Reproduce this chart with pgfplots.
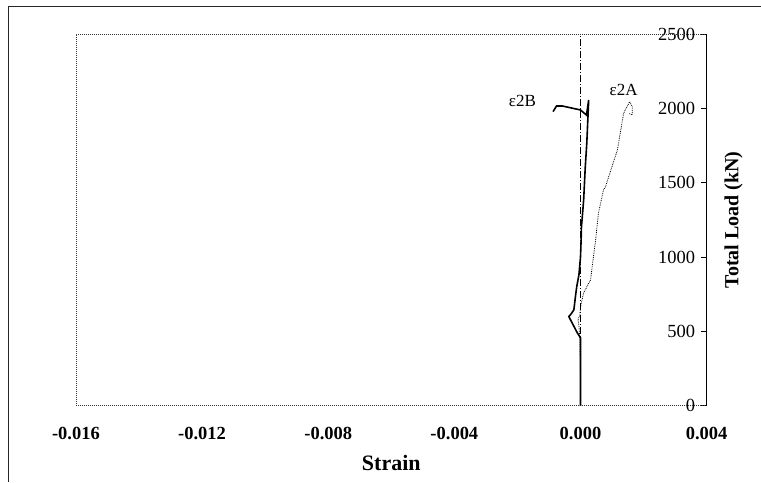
\documentclass[border=0pt]{standalone}
\usepackage{fontspec}
\setmainfont{Liberation Serif}
\usepackage{pgfplots}
\pgfplotsset{compat=1.18}
\begin{document}
\begin{tikzpicture}
\begin{axis}[
  scale only axis, width=631bp, height=372bp,
  xmin=-0.016, xmax=0.004, ymin=0, ymax=2500,
  clip=false,
  axis line style={draw=none},
  xtick={-0.016,-0.012,-0.008,-0.004,0,0.004},
  xticklabels={-0.016,-0.012,-0.008,-0.004,0.000,0.004},
  xtick style={draw=none},
  xticklabel style={font=\fontsize{18.5bp}{20bp}\selectfont\bfseries, yshift=-18bp},
  ytick={0,500,1000,1500,2000,2500},
  ytick pos=right, yticklabel pos=right,
  yticklabel style={anchor=east, xshift=-8bp, font=\fontsize{18.5bp}{20bp}\selectfont,
    /pgf/number format/1000 sep={}},
  ytick style={black, line width=0.6bp},
  tick align=inside, major tick length=6bp,
  /pgf/number format/assume math mode=true,
  scaled x ticks=false,
]
% reference dash-dot line at zero strain
\addplot[black, line width=0.7bp, dash pattern=on 7bp off 2bp on 1bp off 2bp] coordinates {(0,0) (0,2500)};
% e2B
\addplot[black, line width=1.6bp] coordinates {
(0,0) (0,200) (0,457) (-0.0001,490) (-0.00037,600) (-0.00032,611) (-0.00021,645)
(-0.00016,735) (-0.00012,800) (-0.00005,880) (0,1000) (0.00002,1116) (0.00003,1200)
(0.0001,1384) (0.00015,1600) (0.0002,1767) (0.00026,2056) (0.00019,1955) (0.0,1989)
(-0.00058,2016) (-0.00076,2016) (-0.00087,1978)};
% e2A
\addplot[black, line width=0.8bp, densely dotted] coordinates {
(0,0) (0,200) (-0.00002,450) (-0.00005,540) (-0.00008,578) (-0.00002,610) (0.0,665)
(0.0001,760) (0.00032,847) (0.00037,934) (0.00048,1116) (0.00057,1297) (0.00073,1451)
(0.00079,1472) (0.00117,1720) (0.00137,1969) (0.00156,2045) (0.00164,2011)
(0.00164,1955) (0.00153,1967)};
\node[font=\fontsize{17bp}{19bp}\selectfont] at (axis cs:-0.00184,2050) {ε2B};
\node[font=\fontsize{17bp}{19bp}\selectfont] at (axis cs:0.00137,2124) {ε2A};
\end{axis}
% plot area frame
\draw[gray!40!black, line width=0.8bp, dash pattern=on 1bp off 1bp]
  (current axis.south west) -- (current axis.north west) -- (current axis.north east);
\draw[gray!40!black, line width=0.8bp, dash pattern=on 1bp off 1bp]
  (current axis.south west) -- (current axis.south east);
\draw[black, line width=0.7bp] (current axis.south east) -- (current axis.north east);
% axis titles
\node[font=\fontsize{22bp}{24bp}\selectfont\bfseries] at ([yshift=-57bp]current axis.south) {Strain};
\node[rotate=90, font=\fontsize{20bp}{22bp}\selectfont\bfseries] at ([xshift=27bp]current axis.east) {Total Load (kN)};
% outer chart frame
\draw[gray!30!black, line width=0.8bp]
  ([shift={(-68bp,-76bp)}]current axis.south west) -- ([shift={(-68bp,400bp)}]current axis.south west)
  -- ([shift={(685bp,400bp)}]current axis.south west);
\path ([shift={(-76bp,-76bp)}]current axis.south west) rectangle ([shift={(685bp,406bp)}]current axis.south west);
\end{tikzpicture}
\end{document}
